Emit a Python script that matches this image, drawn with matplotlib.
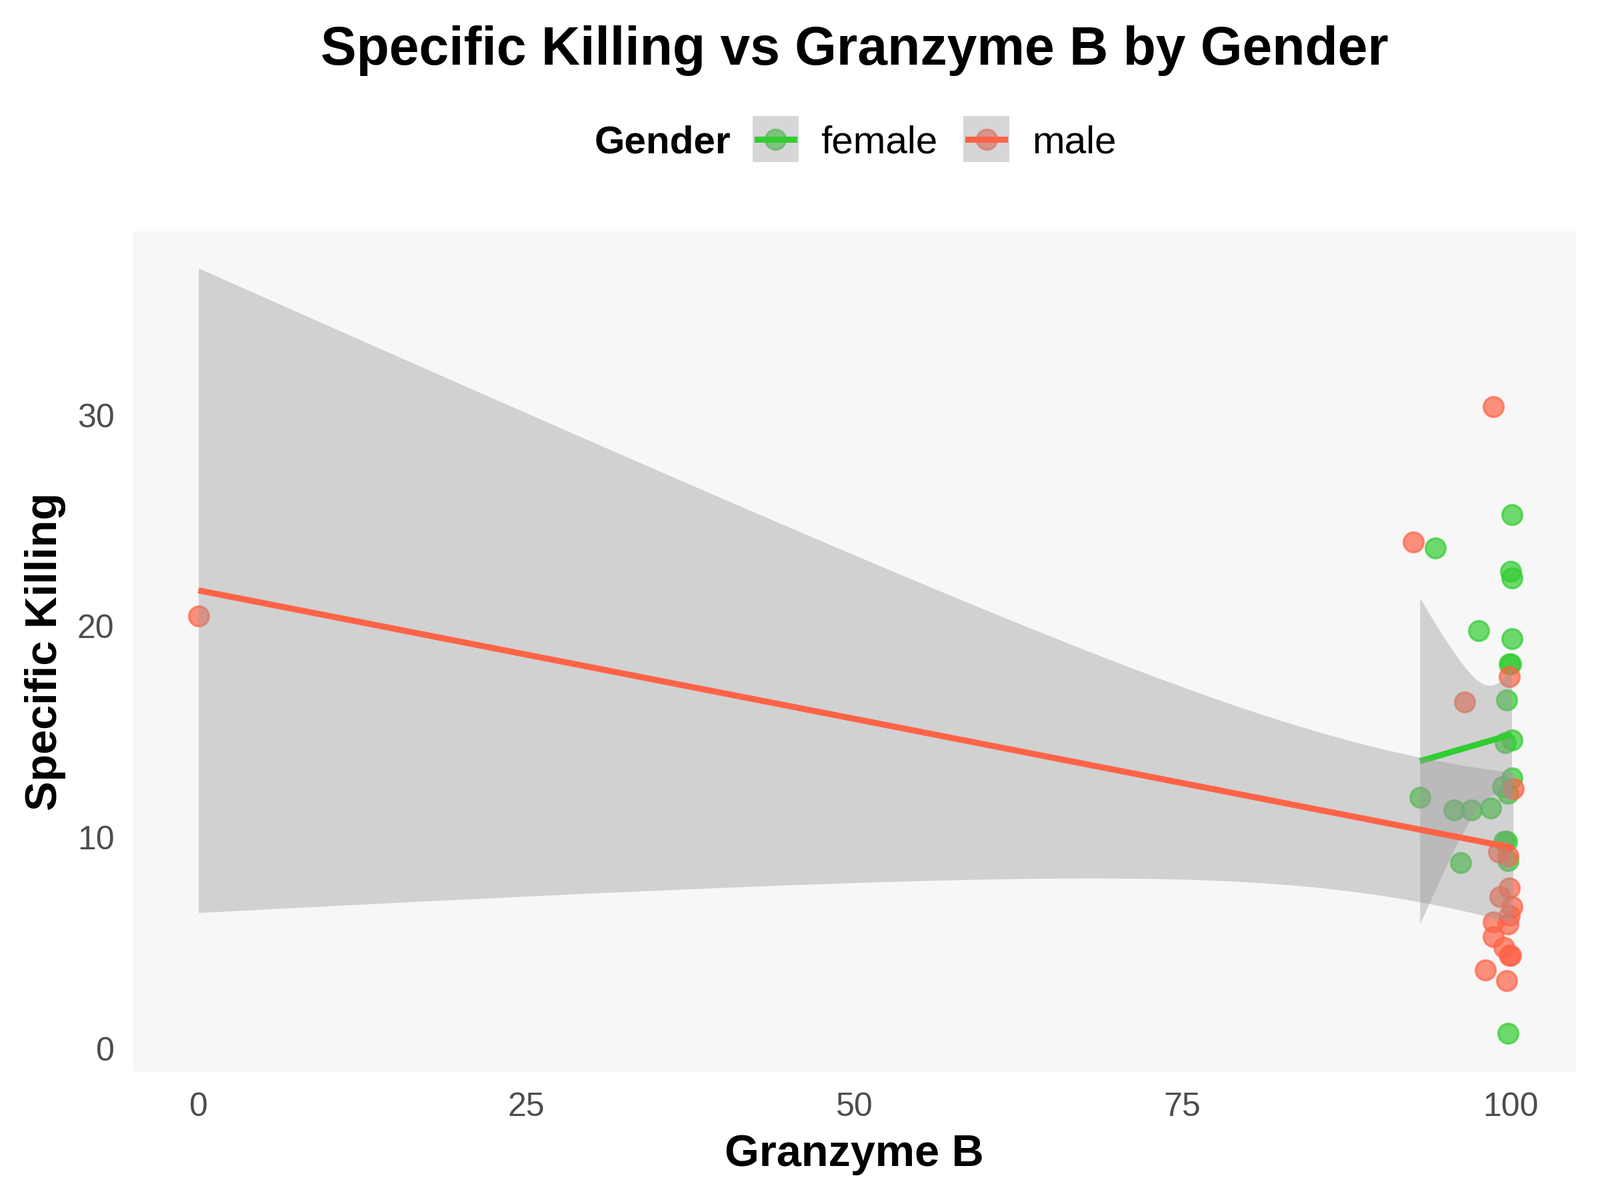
import math
import numpy as np
import matplotlib.pyplot as plt
import matplotlib as mpl
from matplotlib.patches import Rectangle
from matplotlib.lines import Line2D
from matplotlib.legend_handler import HandlerBase

mpl.rcParams.update({
    "font.family": ["Liberation Sans", "DejaVu Sans"],
})

# Granzyme B (x) and Specific Killing (y)
female_gzb = [93.1, 94.3, 95.7, 96.2, 97.0, 97.6, 98.5, 99.4, 99.5, 99.6, 99.7, 99.8,
              99.8, 99.8, 99.9, 100.0, 100.1, 100.1, 100.1, 100.0, 100.1, 100.1, 99.7]
female_kill = [11.9, 23.7, 11.3, 8.8, 11.3, 19.8, 11.4, 12.4, 9.8, 14.5, 16.5, 12.1,
               8.9, 0.7, 18.2, 22.6, 22.3, 25.3, 19.4, 18.2, 14.6, 12.8, 9.8]
male_gzb = [0.0, 92.6, 96.5, 98.7, 99.9, 100.2, 99.1, 99.8, 99.9, 99.2, 100.1, 99.9,
            98.7, 99.8, 98.7, 99.5, 100.0, 99.9, 98.1, 99.7]
male_kill = [20.5, 24.0, 16.4, 30.4, 17.6, 12.3, 9.3, 9.1, 7.6, 7.2, 6.7, 6.3,
             6.0, 5.9, 5.3, 4.8, 4.4, 4.4, 3.7, 3.2]

GROUPS = [("female", female_gzb, female_kill, "#32CD32"),
          ("male", male_gzb, male_kill, "#FF6347")]

BG = "#F7F7F7"
RIBBON = "#999999"
LW = 3.3


def t_quantile(p, df):
    """Student t quantile by bisection on a numeric CDF (no scipy here)."""
    c = math.gamma((df + 1) / 2) / (math.sqrt(df * math.pi) * math.gamma(df / 2))
    def cdf(t):
        xs = np.linspace(0, t, 4001)
        pdf = c * (1 + xs ** 2 / df) ** (-(df + 1) / 2)
        return 0.5 + np.trapezoid(pdf, xs)
    lo, hi = 0.0, 10.0
    for _ in range(60):
        mid = (lo + hi) / 2
        if cdf(mid) < p:
            lo = mid
        else:
            hi = mid
    return (lo + hi) / 2


def lm_band(x, y, n_out=80):
    x = np.asarray(x, float)
    y = np.asarray(y, float)
    n = len(x)
    b, a = np.polyfit(x, y, 1)
    resid = y - (a + b * x)
    s = math.sqrt((resid ** 2).sum() / (n - 2))
    sxx = ((x - x.mean()) ** 2).sum()
    xs = np.linspace(x.min(), x.max(), n_out)
    fit = a + b * xs
    se = s * np.sqrt(1 / n + (xs - x.mean()) ** 2 / sxx)
    t = t_quantile(0.975, n - 2)
    return xs, fit, fit - t * se, fit + t * se


fig = plt.figure(figsize=(12, 9), dpi=200)
ax = fig.add_axes([0.083, 0.107, 0.902, 0.700])
ax.set_facecolor(BG)
for sp in ax.spines.values():
    sp.set_visible(False)

for lbl, gx, gy, col in GROUPS:
    ax.scatter(gx, gy, s=115, color=col, alpha=0.7, edgecolors=col,
               linewidths=1.2, zorder=2)

z = 3
for lbl, gx, gy, col in GROUPS:
    xs, fit, lo, hi = lm_band(gx, gy)
    ax.fill_between(xs, lo, hi, color=RIBBON, alpha=0.4, linewidth=0, zorder=z)
    ax.plot(xs, fit, color=col, linewidth=LW, zorder=z + 1, solid_capstyle="butt")
    z += 2

ax.set_xlim(-5, 105)
ax.set_ylim(-1.1, 38.7)
ax.set_xticks([0, 25, 50, 75, 100])
ax.set_yticks([0, 10, 20, 30])
ax.tick_params(length=0, labelsize=18, labelcolor="#4D4D4D")
ax.tick_params(axis="x", pad=11)
ax.tick_params(axis="y", pad=10)
ax.set_xlabel("Granzyme B", fontsize=24, fontweight="bold", labelpad=6)
ax.set_ylabel("Specific Killing", fontsize=24, fontweight="bold", labelpad=6)

# title and legend are centred on the panel, not the figure
PANEL_CX = 0.083 + 0.902 / 2
fig.text(PANEL_CX, 0.958, "Specific Killing vs Granzyme B by Gender", fontsize=29,
         fontweight="bold", ha="center", va="center")


class KeyHandler(HandlerBase):
    def __init__(self, col):
        super().__init__()
        self.col = col

    def create_artists(self, legend, orig_handle, xd, yd, w, h, fontsize, trans):
        cy = yd + h / 2
        dot = Line2D([xd + w / 2], [cy], marker="o", markersize=11,
                     color=self.col, alpha=0.7, linestyle="none", transform=trans)
        box = Rectangle((xd, cy - w / 2), w, w, facecolor=RIBBON,
                        alpha=0.4, edgecolor="none", transform=trans)
        line = Line2D([xd + w * 0.1, xd + w * 0.9], [cy, cy],
                      color=self.col, linewidth=LW, transform=trans)
        return [dot, box, line]


handles = [Rectangle((0, 0), 1, 1) for _ in GROUPS]
leg = fig.legend(handles, [g[0] for g in GROUPS], ncol=2, frameon=False,
                 loc="center", bbox_to_anchor=(0.584, 0.881), fontsize=21,
                 handler_map={h: KeyHandler(g[3]) for h, g in zip(handles, GROUPS)},
                 handlelength=1.18, handletextpad=0.58, columnspacing=0.66)
fig.text(0.414, 0.881, "Gender", fontsize=21, fontweight="bold",
         ha="center", va="center")

fig.savefig("out.png", dpi=200, facecolor="white")
